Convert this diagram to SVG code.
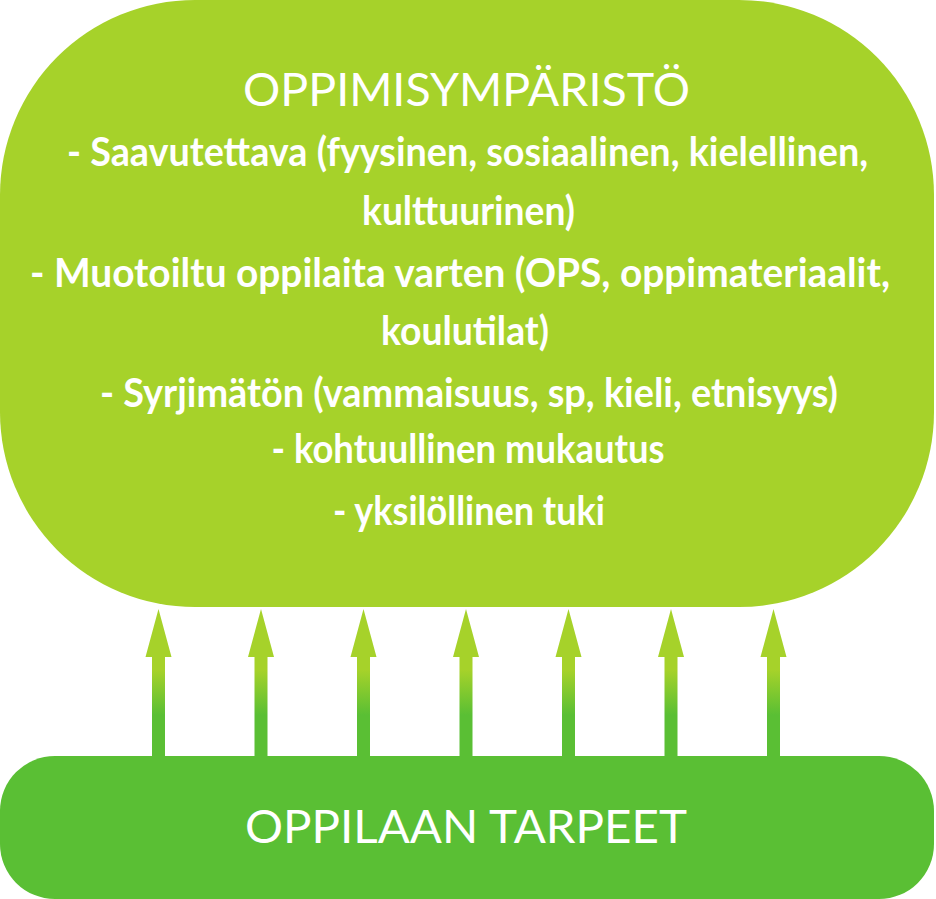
<svg xmlns="http://www.w3.org/2000/svg" width="936" height="899" viewBox="0 0 936 899">
<defs>
<style>
.t{font-family:Lato,"Noto Sans","Liberation Sans",sans-serif;fill:#ffffff;text-anchor:middle}
.title{font-size:46px;font-weight:400}
.body{font-size:41px;font-weight:700}
</style>
<linearGradient id="ag" gradientUnits="userSpaceOnUse" x1="0" y1="607" x2="0" y2="757">
<stop offset="0" stop-color="#a6d22a"/>
<stop offset="0.42" stop-color="#a6d22a"/>
<stop offset="0.72" stop-color="#5abf34"/>
<stop offset="1" stop-color="#5abf34"/>
</linearGradient>
<path id="arrow" d="M-6.5,758 L-6.5,657 L-13,657 L0,609 L13,657 L6.5,657 L6.5,758 Z" fill="url(#ag)"/>
</defs>
<rect width="936" height="899" fill="#ffffff"/>
<g id="connectors">
<use href="#arrow" x="158.5"/>
<use href="#arrow" x="261"/>
<use href="#arrow" x="363.5"/>
<use href="#arrow" x="466"/>
<use href="#arrow" x="568.5"/>
<use href="#arrow" x="671"/>
<use href="#arrow" x="773.5"/>
</g>
<g id="node-oppimisymparisto">
<rect x="0" y="0" width="934" height="607" rx="195" ry="195" fill="#a6d22a"/>
<text class="t title" x="466.5" y="106" textLength="447" lengthAdjust="spacingAndGlyphs">OPPIMISYMPÄRISTÖ</text>
<text class="t body" x="467.5" y="166" textLength="801" lengthAdjust="spacingAndGlyphs">- Saavutettava (fyysinen, sosiaalinen, kielellinen,</text>
<text class="t body" x="468.5" y="225" textLength="213" lengthAdjust="spacingAndGlyphs">kulttuurinen)</text>
<text class="t body" x="460" y="287" textLength="860" lengthAdjust="spacingAndGlyphs">- Muotoiltu oppilaita varten (OPS, oppimateriaalit,</text>
<text class="t body" x="465" y="345" textLength="168" lengthAdjust="spacingAndGlyphs">koulutilat)</text>
<text class="t body" x="469" y="407" textLength="738" lengthAdjust="spacingAndGlyphs">- Syrjimätön (vammaisuus, sp, kieli, etnisyys)</text>
<text class="t body" x="468" y="463" textLength="393" lengthAdjust="spacingAndGlyphs">- kohtuullinen mukautus</text>
<text class="t body" x="469" y="525" textLength="272" lengthAdjust="spacingAndGlyphs">- yksilöllinen tuki</text>
</g>
<g id="node-oppilaan-tarpeet">
<rect x="0" y="756" width="934" height="143" rx="55" ry="55" fill="#5abf34"/>
<text class="t title" x="466" y="843" textLength="442" lengthAdjust="spacingAndGlyphs">OPPILAAN TARPEET</text>
</g>
</svg>
